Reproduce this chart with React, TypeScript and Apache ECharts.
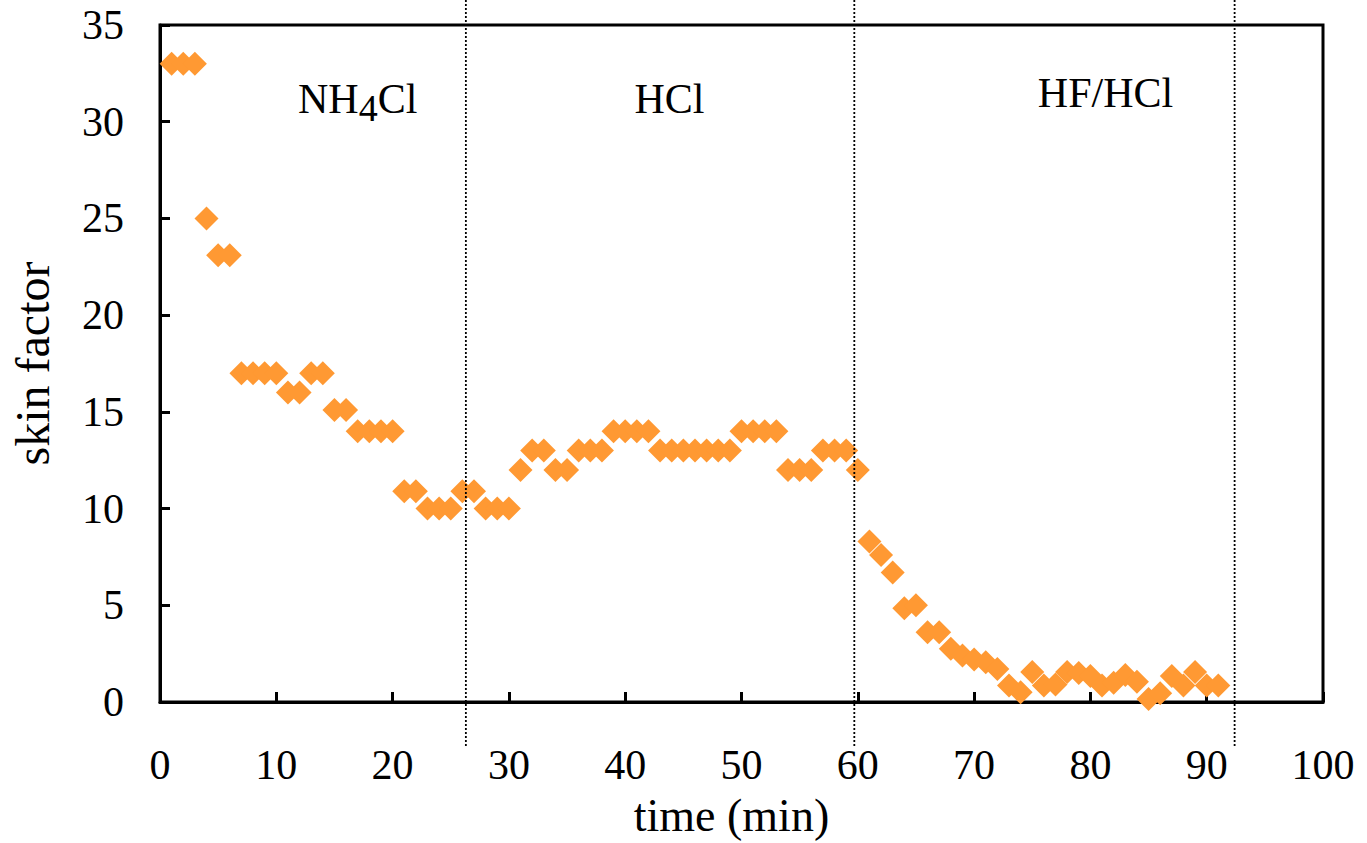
import React, { useEffect, useRef } from 'react';
import * as echarts from 'echarts';

const timeMin = [
  1, 2, 3, 4, 5, 6, 7, 8, 9, 10,
  11, 12, 13, 14, 15, 16, 17, 18, 19, 20,
  21, 22, 23, 24, 25, 26, 27, 28, 29, 30,
  31, 32, 33, 34, 35, 36, 37, 38, 39, 40,
  41, 42, 43, 44, 45, 46, 47, 48, 49, 50,
  51, 52, 53, 54, 55, 56, 57, 58, 59, 60,
  61, 62, 63, 64, 65, 66, 67, 68, 69, 70,
  71, 72, 73, 74, 75, 76, 77, 78, 79, 80,
  81, 82, 83, 84, 85, 86, 87, 88, 89, 90,
  91,
];

const skinFactor = [
  33, 33, 33, 25, 23.1, 23.1, 17, 17, 17, 17,
  16, 16, 17, 17, 15.1, 15.1, 14, 14, 14, 14,
  10.9, 10.9, 10, 10, 10, 10.9, 10.9, 10, 10, 10,
  12, 13, 13, 12, 12, 13, 13, 13, 14, 14,
  14, 14, 13, 13, 13, 13, 13, 13, 13, 14,
  14, 14, 14, 12, 12, 12, 13, 13, 13, 12,
  8.3, 7.6, 6.7, 4.85, 5.0, 3.6, 3.6, 2.75, 2.4, 2.2,
  2.05, 1.7, 0.85, 0.5, 1.55, 0.85, 0.9, 1.55, 1.5, 1.35,
  0.85, 1.0, 1.4, 1.05, 0.15, 0.45, 1.35, 0.85, 1.55, 0.85,
  0.85,
];

const stageBoundaries = [26.3, 59.7, 92.4];
const stageLabelX = [17, 43.8, 81.3];
const stageLabelY = [78, 78, 72];
const stageLabels = ['{a|NH}{s|4}{a|Cl}', '{a|HCl}', '{a|HF/HCl}'];

const FONT = '"Liberation Serif", "Times New Roman", serif';

export default function App() {
  const ref = useRef<HTMLDivElement>(null);

  useEffect(() => {
    if (!ref.current) return;
    const chart = echarts.init(ref.current, undefined, { renderer: 'svg' });
    const data = timeMin.map((t, i) => [t, skinFactor[i]]);
    chart.setOption({
      animation: false,
      backgroundColor: '#fff',
      grid: {
        left: 160,
        right: 44,
        top: 25,
        bottom: 140,
        show: true,
        borderColor: '#000',
        borderWidth: 3,
        backgroundColor: 'transparent',
      },
      xAxis: {
        type: 'value',
        min: 0,
        max: 100,
        interval: 10,
        name: 'time (min)',
        nameLocation: 'middle',
        nameGap: 90,
        nameTextStyle: { fontFamily: FONT, fontSize: 46, color: '#000', padding: [0, 20, 0, 0] },
        axisLine: { show: true, onZero: false, lineStyle: { color: '#000', width: 3 } },
        axisTick: { show: true, inside: true, length: 10, lineStyle: { color: '#000', width: 3 } },
        axisLabel: { fontFamily: FONT, fontSize: 42, color: '#000', margin: 42 },
        splitLine: { show: false },
      },
      yAxis: {
        type: 'value',
        min: 0,
        max: 35,
        interval: 5,
        name: 'skin factor',
        nameLocation: 'middle',
        nameGap: 104,
        nameTextStyle: { fontFamily: FONT, fontSize: 48, color: '#000' },
        axisLine: { show: true, onZero: false, lineStyle: { color: '#000', width: 3 } },
        axisTick: { show: true, inside: true, length: 10, lineStyle: { color: '#000', width: 3 } },
        axisLabel: { fontFamily: FONT, fontSize: 42, color: '#000', margin: 36 },
        splitLine: { show: false },
      },
      series: [
        {
          type: 'scatter',
          data,
          symbol: 'diamond',
          symbolSize: 24,
          itemStyle: { color: '#FF9933', opacity: 1 },
          z: 3,
        },
      ],
    });

    const graphics: any[] = [];
    stageBoundaries.forEach((b) => {
      const px = chart.convertToPixel({ gridIndex: 0 }, [b, 0]) as number[];
      graphics.push({
        type: 'line',
        shape: { x1: px[0], y1: 0, x2: px[0], y2: 747 },
        style: { stroke: '#000', lineWidth: 1.8, lineDash: [2, 2] },
        z: 100,
      });
    });
    stageLabels.forEach((lab, i) => {
      const px = chart.convertToPixel({ gridIndex: 0 }, [stageLabelX[i], 0]) as number[];
      graphics.push({
        type: 'text',
        x: px[0],
        y: stageLabelY[i],
        style: {
          text: lab,
          align: 'center',
          verticalAlign: 'top',
          rich: {
            a: { fontFamily: FONT, fontSize: 42, fill: '#000', lineHeight: 46, verticalAlign: 'top' },
            s: { fontFamily: FONT, fontSize: 38, fill: '#000', lineHeight: 38, verticalAlign: 'top', padding: [11, 0, 0, 0] },
          },
        },
        z: 100,
      });
    });
    chart.setOption({ graphic: graphics });

    return () => chart.dispose();
  }, []);

  return (
    <div
      ref={ref}
      style={{ position: 'fixed', left: 0, top: 0, width: 1367, height: 843, background: '#fff' }}
    />
  );
}
